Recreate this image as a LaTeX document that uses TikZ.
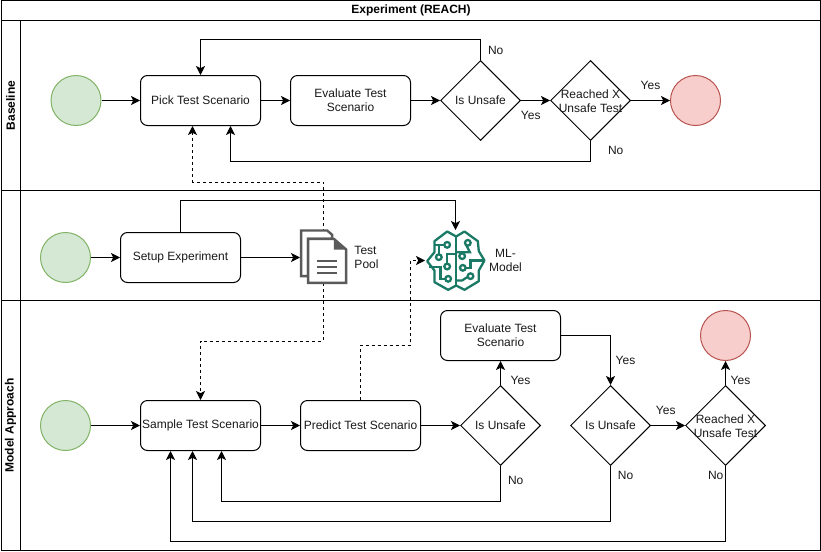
\documentclass[tikz,border=0pt]{standalone}
\usepackage{fontspec}
\setmainfont{Liberation Sans}
\usetikzlibrary{arrows.meta,shapes.geometric}
\definecolor{gfill}{HTML}{D5E8D4}\definecolor{gline}{HTML}{82B366}
\definecolor{rfill}{HTML}{F8CECC}\definecolor{rline}{HTML}{B85450}
\definecolor{docc}{HTML}{5A5A5A}\definecolor{brainc}{HTML}{1B7A66}
\definecolor{txt}{HTML}{1A1A1A}
\tikzset{
  lbl/.style={font=\fontsize{12}{14}\selectfont,text=txt,align=center,inner sep=0pt},
  head/.style={font=\fontsize{12}{14}\selectfont\bfseries,inner sep=0pt},
  taskbox/.style={draw,rounded corners=7pt,minimum width=120pt,minimum height=50pt,inner sep=0pt,lbl,draw=black},
  dia/.style={draw,diamond,aspect=1,minimum width=80pt,minimum height=80pt,inner sep=0pt},
  startc/.style={draw=gline,fill=gfill,circle,minimum size=50pt,inner sep=0pt},
  endc/.style={draw=rline,fill=rfill,circle,minimum size=50pt,inner sep=0pt},
  conn/.style={draw,-{Stealth[length=9pt,width=9pt,inset=2.2pt]}},
  dconn/.style={draw,dash pattern=on 3pt off 3pt},
}
\begin{document}
\begin{tikzpicture}[x=1pt,y=-1pt,line width=1pt]
\useasboundingbox (0,0) rectangle (821,551);
\fill[white] (0,0) rectangle (821,551);
\begin{scope}[shift={(0.5,0.5)}]
% pool frame
\draw (0.5,0) rectangle (820,550);
\draw (0.5,20) -- (820,20);
\draw (0.5,190) -- (820,190);
\draw (0.5,300) -- (820,300);
\draw (20,20) -- (20,550);
\node[head] (title) at (410.5,10) {Experiment (REACH)};
\node[head,rotate=90] (lane1) at (10,105) {Baseline};
\node[head,rotate=90] (lane3) at (10,425) {Model Approach};
% baseline
\node[startc] (s1) at (75.5,100) {};
\node[taskbox] (pick) at (200,100) {Pick Test Scenario};
\node[taskbox] (eval1) at (350,100) {Evaluate Test\\Scenario};
\node[dia] (u1) at (480,100) {};
\node[lbl] (u1t) at (480,100) {Is Unsafe};
\node[dia] (r1) at (590,100) {};
\node[lbl] (r1t) at (590,100.5) {Reached X\\Unsafe Test};
\node[endc] (e1) at (695,100) {};
% middle
\node[startc] (s2) at (65,257) {};
\node[taskbox] (setup) at (180,257) {Setup Experiment};
\node[inner sep=0pt,minimum width=47pt,minimum height=55pt] (pool) at (323.5,257) {};
\node[inner sep=0pt,minimum width=60pt,minimum height=60pt] (ml) at (455,260) {};
\node[lbl,align=left] (poolt) at (366,257) {Test\\Pool};
\node[lbl] (mlt) at (505,260) {ML-\\Model};
% model approach
\node[startc] (s3) at (65,425) {};
\node[taskbox] (sample) at (200,425) {Sample Test Scenario};
\node[taskbox] (predict) at (360,425) {Predict Test Scenario};
\node[dia] (u2) at (500,425) {};
\node[lbl] (u2t) at (500,425) {Is Unsafe};
\node[taskbox] (eval2) at (500,335) {Evaluate Test\\Scenario};
\node[dia] (u3) at (610,425) {};
\node[lbl] (u3t) at (610,425) {Is Unsafe};
\node[dia] (r2) at (725,425) {};
\node[lbl] (r2t) at (725,425.5) {Reached X\\Unsafe Test};
\node[endc] (e2) at (725,335) {};
% connectors
\path[conn] (s1) -- (pick);
\path[conn] (pick) -- (eval1);
\path[conn] (eval1) -- (u1);
\path[conn] (u1) -- (r1);
\path[conn] (r1) -- (e1);
\path[conn] (u1.north) -- ++(0,-20) -| (pick.north);
\path[conn] (r1.south) -- ++(0,20) -| ([xshift=30pt]pick.south);
\path[conn] (s2) -- (setup);
\path[conn] (setup) -- (pool);
\path[conn] (setup.north) -- ++(0,-32) -| (ml.north);
\path[conn] (s3) -- (sample);
\path[conn] (sample) -- (predict);
\path[conn] (predict) -- (u2);
\path[conn] (u2) -- (eval2);
\path[conn] (eval2.east) -| (u3.north);
\path[conn] (u3) -- (r2);
\path[conn] (r2) -- (e2);
\path[conn] (u2.south) -- ++(0,35) -| ([xshift=21pt]sample.south);
\path[conn] (u3.south) -- ++(0,55) -| ([xshift=-8pt]sample.south);
\path[conn] (r2.south) -- ++(0,75) -| ([xshift=-30pt]sample.south);
\path[conn,dconn,{Stealth[length=9pt,width=9pt,inset=2.2pt]}-{Stealth[length=9pt,width=9pt,inset=2.2pt]}] ([xshift=-8pt]pick.south) -- ++(0,56) -- ++(131,0) -- ++(0,159) -| (sample.north);
\path[conn,dconn] (predict.north) -- ++(0,-55) -- ++(50,0) |- (ml.west);
% edge labels
\node[lbl] (l1) at (495.2,50.2) {No};
\node[lbl] (l2) at (530.2,115.2) {Yes};
\node[lbl] (l3) at (650,85.2) {Yes};
\node[lbl] (l4) at (615.2,150.2) {No};
\node[lbl] (l5) at (520,380.2) {Yes};
\node[lbl] (l6) at (625,360.2) {Yes};
\node[lbl] (l7) at (665.2,410.2) {Yes};
\node[lbl] (l8) at (740,380.2) {Yes};
\node[lbl] (l9) at (515.2,480.2) {No};
\node[lbl] (l10) at (625,475.2) {No};
\node[lbl] (l11) at (715.2,475.2) {No};
% document icon
\begin{scope}[shift={(295,225)},x=0.3333pt,y=-0.3333pt,line width=2.4pt,draw=docc]
\draw[fill=white,line join=miter] (95,15) -- (17,15) -- (17,152) -- (38,152) -- (38,40) -- (110,40) -- (110,28) -- cycle;
\draw[fill=white] (38,40) -- (115,40) -- (152,72) -- (152,172) -- (38,172) -- cycle;
\fill[docc] (115,40) -- (152,72) -- (115,72) -- cycle;
\draw (65,107) -- (125,107);
\draw (65,125) -- (125,125);
\draw (65,143) -- (125,143);
\end{scope}
% brain icon
\begin{scope}[shift={(280,210)},x=0.3333pt,y=-0.3333pt,line width=2.3pt,draw=brainc]
\draw[line join=round] (527,78) -- (500,63) -- (462,92) -- (462,125) -- (440,152) -- (462,180) -- (462,215) -- (503,238) -- (527,225) -- (552,238) -- (595,212) -- (595,180) -- (612,150) -- (595,122) -- (592,92) -- (552,63) -- cycle;
\draw (527,78) -- (527,225);
\draw (462,103) -- (490,103);
\draw (475,103) -- (475,130);
\draw (500,158) -- (500,130) -- (527,130);
\draw (493,205) -- (480,205) -- (480,170) -- (445,170);
\draw (527,125) -- (568,125) -- (558,105);
\draw (557,172) -- (570,172) -- (570,150) -- (610,150);
\draw (560,200) -- (545,210) -- (527,210);
\draw (545,125) -- (545,128);
\foreach \p in {(500,103),(475,140),(500,168),(503,205),(562,97),(545,137),(547,172),(570,197)}
  \draw \p circle[radius=8.5];
\end{scope}
\end{scope}
\end{tikzpicture}
\end{document}
